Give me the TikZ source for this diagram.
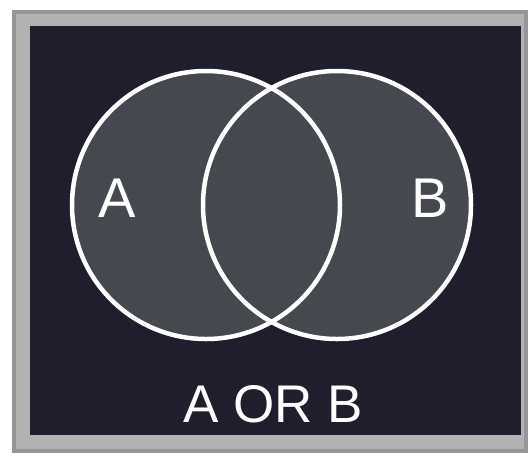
\documentclass[tikz,border=0pt]{standalone}
\usepackage{fontspec}
\setmainfont{Liberation Sans}
\usepackage{tikz}
\definecolor{frameGray}{RGB}{150, 150, 150}
\definecolor{frameLight}{RGB}{178, 178, 178}
\definecolor{panelDark}{RGB}{30, 30, 44}
\definecolor{setGray}{RGB}{70, 72, 80}

\begin{document}
\begin{tikzpicture}[x=1pt, y=-1pt,
    setline/.style={draw=white, line width=4.5pt},
    setlabel/.style={text=white, font=\fontsize{56}{56}\selectfont, inner sep=0pt}]
        \useasboundingbox (0,0) rectangle (532,459);
        \fill[white] (0,0) rectangle (532,459);
        \fill[frameGray] (12,10) rectangle (528,453);
        \fill[frameLight] (16,14) rectangle (524,449);
        \fill[panelDark] (30,26) rectangle (521,435);
        \fill[setGray] (206,205) circle (134);
        \fill[setGray] (337,205) circle (134);
        \draw[setline] (206,205) circle (134);
        \draw[setline] (337,205) circle (134);
        \node[setlabel] (labelA) at (117,198) {A};
        \node[setlabel] (labelB) at (430,198) {B};
        \node[setlabel, font=\fontsize{53}{53}\selectfont] (caption) at (273,404) {A OR B};
      \end{tikzpicture}
\end{document}
